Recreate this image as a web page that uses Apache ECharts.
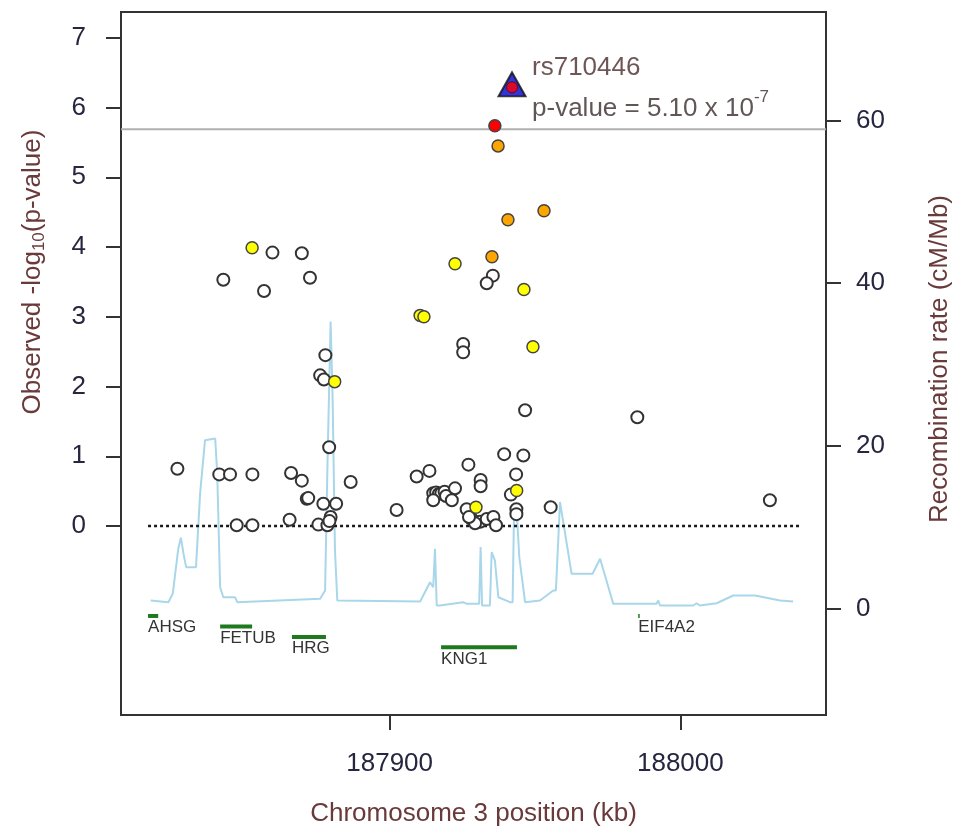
<!DOCTYPE html>
<html><head><meta charset="utf-8">
<script src="https://cdn.jsdelivr.net/npm/echarts@6/dist/echarts.min.js"></script>
<style>html,body{margin:0;padding:0;background:#fff}#c{width:962px;height:834px}</style>
</head><body><div id="c"></div>
<script>
// ---------- data ----------
const xTicks = [187900, 188000];
const yTicksLeft = [0, 1, 2, 3, 4, 5, 6, 7];
const yTicksRight = [0, 20, 40, 60];

const whitePos = [187827.0,187841.4,187845.1,187852.8,187847.4,187852.8,187866.1,187869.8,187865.6,187871.5,
  187872.0,187877.2,187881.6,187879.7,187875.5,187878.6,187879.3,187879.2,187877.9,187876.1,
  187877.4,187886.6,187902.4,187909.3,187913.7,187915.0,187916.0,187916.9,187917.8,187915.0,
  187918.9,187919.4,187922.5,187921.4,187927.1,187925.3,187925.3,187859.7,187869.8,187842.8,
  187856.8,187872.6,187935.5,187933.4,187946.6,187985.2,187939.4,187946.0,187943.5,187931.3,
  187931.3,187941.7,187943.6,187943.6,187955.4,188030.8,187926.5,187928.2,187931.1,187933.4,
  187935.7,187936.6,187929.4,187927.3];
const whiteP = [0.82,0.74,0.74,0.74,0.01,0.01,0.76,0.65,0.09,0.39,
  0.40,0.32,0.32,0.13,0.02,0.01,0.07,1.13,2.45,2.16,
  2.10,0.63,0.23,0.71,0.79,0.47,0.48,0.46,0.47,0.37,
  0.49,0.43,0.54,0.37,0.88,2.61,2.49,3.92,3.91,3.53,
  3.37,3.56,3.59,3.48,1.66,1.56,1.03,1.01,0.74,0.66,
  0.57,0.45,0.24,0.17,0.27,0.37,0.24,0.10,0.06,0.10,
  0.13,0.01,0.04,0.13];

const yellowPos = [187852.7,187922.5,187946.2,187910.5,187911.8,187949.3,187881.1,187929.7,187943.7];
const yellowP = [3.99,3.76,3.39,3.02,3.00,2.57,2.07,0.27,0.51];

const orangePos = [187937.3,187953.1,187940.7,187935.2];
const orangeP = [5.45,4.52,4.39,3.86];

const redPos = [187936.2];
const redP = [5.74];

const topSnpName = 'rs710446';
const topSnpPos = 187942.1;
const topSnpP = 6.29;
const topSnpPText = '5.10 x 10';
const topSnpPExp = '-7';

const thresholdP = 5.69;
const baselineStart = 187816.9, baselineEnd = 188041.1;

const recombPos = [187817.8,187823.9,187825.4,187827.3,187828.2,187829.1,187830.0,187833.4,187834.8,187836.5,
  187840.0,187840.7,187841.7,187842.8,187846.8,187847.6,187876.1,187877.8,187878.6,187879.7,
  187880.4,187881.2,187882.0,187910.5,187913.9,187915.0,187915.6,187916.2,187917.3,187925.3,
  187926.5,187930.8,187931.3,187931.8,187934.5,187935.1,187936.2,187937.4,187941.4,187942.3,
  187942.8,187943.7,187944.6,187946.6,187951.7,187956.3,187957.2,187958.6,187962.6,187969.8,
  187972.4,187976.9,187991.8,187992.4,187993.0,188004.4,188005.6,188006.7,188012.5,188018.2,
  188025.7,188034.3,188038.8];
const recombRate = [0.99,0.78,1.81,7.35,8.71,6.74,5.09,5.09,14.1,20.7,
  20.9,16.6,2.62,1.39,1.39,0.78,1.20,2.22,17.4,35.3,
  25.6,7.15,0.99,0.86,3.24,2.62,7.35,0.37,0.37,0.78,
  0.58,0.58,7.55,0.37,0.37,6.94,5.91,1.39,0.78,0.78,
  12.1,12.1,6.32,0.78,0.99,2.22,2.22,13.1,4.27,4.27,
  6.12,0.58,0.58,0.99,0.37,0.37,0.65,0.37,0.65,1.60,
  1.60,0.99,0.86];

const geneNames = ['AHSG','FETUB','HRG','KNG1','EIF4A2'];
const geneStart = [187816.9,187841.7,187866.4,187917.7,187985.5];
const geneEnd   = [187820.4,187852.7,187878.1,187943.8,187986.0];
const geneRow   = [0,1,2,3,0];

// ---------- layout / style ----------
const X_MIN = 187807.6, X_MAX = 188050.1;
const FONT = '"Liberation Sans", Arial, sans-serif';
const TICK_COLOR = '#26263f';
const TITLE_COLOR = '#6a3a3a';
const GENE_Y0 = -1.29, GENE_STEP = 0.15;

const zip = (a, b) => a.map((v, i) => [v, b[i]]);

const chart = echarts.init(document.getElementById('c'));

function scatter(name, pos, p, fill, border, bw) {
  return {
    name, type: 'scatter', xAxisIndex: 0, yAxisIndex: 0, silent: true,
    data: zip(pos, p), symbol: 'circle', symbolSize: 12,
    itemStyle: { color: fill, borderColor: border, borderWidth: bw, opacity: 1 },
    z: 5
  };
}

const option = {
  animation: false,
  backgroundColor: '#fff',
  grid: { left: 121, right: 136, top: 12, bottom: 119, show: true, borderColor: '#333', borderWidth: 2, backgroundColor: 'transparent' },
  xAxis: {
    type: 'value', min: X_MIN, max: X_MAX,
    axisLine: { show: false, onZero: false },
    splitLine: { show: false },
    axisTick: { show: true, length: 15, lineStyle: { color: '#333', width: 2 }, customValues: xTicks },
    axisLabel: { customValues: xTicks, formatter: v => String(v), fontSize: 26, color: TICK_COLOR, fontFamily: FONT, margin: 36 },
    name: 'Chromosome 3 position (kb)', nameLocation: 'middle', nameGap: 86,
    nameTextStyle: { fontSize: 26, color: TITLE_COLOR, fontFamily: FONT }
  },
  yAxis: [
    {
      type: 'value', min: -2.71, max: 7.37, position: 'left',
      axisLine: { show: false, onZero: false }, splitLine: { show: false },
      axisTick: { show: true, length: 15, lineStyle: { color: '#333', width: 2 }, customValues: yTicksLeft },
      axisLabel: { customValues: yTicksLeft, fontSize: 26, color: TICK_COLOR, fontFamily: FONT, margin: 35 }
    },
    {
      type: 'value', min: -13.09, max: 73.34, position: 'right',
      axisLine: { show: false, onZero: false }, splitLine: { show: false },
      axisTick: { show: true, length: 15, lineStyle: { color: '#333', width: 2 }, customValues: yTicksRight },
      axisLabel: { customValues: yTicksRight, fontSize: 26, color: TICK_COLOR, fontFamily: FONT, margin: 30 }
    }
  ],
  graphic: [
    {
      type: 'text', x: 33, y: 272, rotation: Math.PI / 2, silent: true,
      style: {
        text: '{a|Observed -log}{s|10}{a|(p-value)}',
        align: 'center', verticalAlign: 'middle',
        rich: {
          a: { fontSize: 26, fontFamily: FONT, fill: TITLE_COLOR, color: TITLE_COLOR, lineHeight: 30 },
          s: { fontSize: 17, fontFamily: FONT, fill: TITLE_COLOR, color: TITLE_COLOR, lineHeight: 14, verticalAlign: 'bottom' }
        }
      }
    },
    {
      type: 'text', x: 940, y: 359, rotation: Math.PI / 2, silent: true,
      style: {
        text: 'Recombination rate (cM/Mb)', fontSize: 26, fontFamily: FONT, fill: TITLE_COLOR,
        align: 'center', verticalAlign: 'middle'
      }
    }
  ],
  series: [
    {
      name: 'recomb', type: 'line', yAxisIndex: 1, data: zip(recombPos, recombRate),
      symbol: 'none', silent: true, lineStyle: { color: '#a9d7e9', width: 2 }, z: 1
    },
    {
      name: 'threshold', type: 'line', yAxisIndex: 0, data: [[X_MIN, thresholdP], [X_MAX, thresholdP]],
      symbol: 'none', silent: true, lineStyle: { color: '#b0b0b0', width: 2 }, z: 2
    },
    {
      name: 'baseline', type: 'line', yAxisIndex: 0, data: [[baselineStart, 0], [baselineEnd, 0]],
      symbol: 'none', silent: true, lineStyle: { color: '#1a1a1a', width: 2.5, type: [3, 3] }, z: 2
    },
    {
      name: 'genes', type: 'custom', yAxisIndex: 0, silent: true, z: 3,
      data: geneNames.map((n, i) => [geneStart[i], geneEnd[i], geneRow[i], i]),
      encode: { x: [0, 1] },
      renderItem: function (params, api) {
        const s = api.value(0), e = api.value(1), row = api.value(2), idx = api.value(3);
        const yv = GENE_Y0 - row * GENE_STEP;
        const p1 = api.coord([s, yv]), p2 = api.coord([e, yv]);
        const w = Math.max(p2[0] - p1[0], 1.5);
        return {
          type: 'group', children: [
            { type: 'rect', shape: { x: p1[0], y: p1[1] - 2, width: w, height: 4 }, style: { fill: '#1f7a1f' } },
            { type: 'text', x: p1[0], y: p1[1] + 3, style: { text: geneNames[idx], fill: '#333', fontSize: 17, fontFamily: FONT, align: 'left', verticalAlign: 'top' } }
          ]
        };
      }
    },
    scatter('r2<0.2', whitePos, whiteP, '#ffffff', '#333333', 2),
    scatter('yellow', yellowPos, yellowP, '#ffff00', '#444', 1.5),
    scatter('orange', orangePos, orangeP, '#ffa500', '#444', 1.5),
    scatter('red', redPos, redP, '#ff0000', '#444', 1.5),
    {
      name: 'top', type: 'scatter', yAxisIndex: 0, silent: true, z: 6,
      data: [[topSnpPos, topSnpP]], symbol: 'triangle', symbolSize: [27, 24], symbolOffset: [0, -3],
      itemStyle: { color: '#0000cc', borderColor: '#111', borderWidth: 2 }
    },
    {
      name: 'topdot', type: 'scatter', yAxisIndex: 0, silent: true, z: 7,
      data: [[topSnpPos, topSnpP]], symbol: 'circle', symbolSize: 11,
      itemStyle: { color: '#ff0000', borderColor: '#660000', borderWidth: 1 },
      label: {
        show: true, position: [26, -34], align: 'left', verticalAlign: 'top',
        formatter: '{n|' + topSnpName + '}\n{v|p-value = ' + topSnpPText + '}{sup|' + topSnpPExp + '}',
        rich: {
          n: { fontSize: 26, fontFamily: FONT, color: '#4a2c2c', lineHeight: 41 },
          v: { fontSize: 26, fontFamily: FONT, color: '#3a2c2c', lineHeight: 41 },
          sup: { fontSize: 17, fontFamily: FONT, color: '#3a2c2c', lineHeight: 20, verticalAlign: 'top' }
        }
      }
    }
  ]
};
chart.setOption(option);
</script></body></html>
